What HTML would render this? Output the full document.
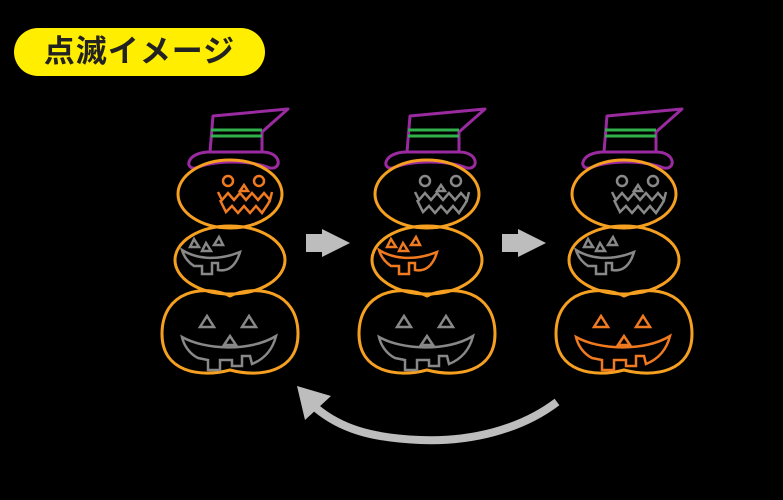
<!DOCTYPE html>
<html><head><meta charset="utf-8"><style>
body{margin:0;background:#000;width:783px;height:500px;overflow:hidden;position:relative}
.pill{position:absolute;left:14px;top:28px;width:251px;height:48px;border-radius:24px;background:#ffee00;font-family:"Liberation Sans","Noto Sans CJK JP",sans-serif;font-weight:bold;font-size:31px;line-height:48px;text-align:center;color:#222;letter-spacing:1px}
svg{position:absolute;left:0;top:0}
</style></head><body>
<div class="pill">点滅イメージ</div>
<svg width="783" height="500" viewBox="0 0 783 500">
<defs>
<g id="body" fill="none" stroke-width="3" stroke-linejoin="round">
<path d="M213,116 L288,109 L262,132 L262,152 L210,152 Z" stroke="#9a2aa0"/>
<path d="M210,152 C186,152 184,170 196,168 C215,160 250,160 270,168 C282,170 282,152 262,152" stroke="#9a2aa0"/>
<line x1="211" y1="130" x2="262" y2="130" stroke="#2fb04a"/>
<line x1="211" y1="136" x2="262" y2="136" stroke="#2fb04a"/>
<ellipse cx="230" cy="194" rx="52" ry="34" stroke="#f5a020"/>
<ellipse cx="230" cy="260" rx="55" ry="34" stroke="#f5a020"/>
<path d="M230,296 C205,284 162,290 162,334 C162,372 200,378 230,370 C260,378 298,372 298,334 C298,290 255,284 230,296 Z" stroke="#f5a020"/>
</g>
<g id="top" fill="none" stroke-width="2.5">
<circle cx="228" cy="181" r="5"/><circle cx="259" cy="181" r="5"/>
<path d="M240,191 L244,185 L248,191 Z"/>
<path d="M218,192 L222,200 L228,193 L234,200 L240,193 L246,200 L252,193 L258,200 L264,193 L270,200 L272,192 M220,200 L226,212 L232,206 L238,213 L244,206 L250,213 L256,206 L262,213 L268,204 L270,200"/>
</g>
<g id="mid" fill="none" stroke-width="2.5">
<path d="M190,247 L194,239 L199,247 Z M202,251 L206,243 L211,251 Z M214,245 L219,237 L223,245 Z"/>
<path d="M182,250 C195,258 215,262 240,252 C236,266 228,272 218,270 L218,263 L212,263 L212,274 L202,274 L202,266 L194,266 C188,262 184,257 182,250 Z"/>
</g>
<g id="bot" fill="none" stroke-width="2.5">
<path d="M200,327 L207,316 L214,327 Z M242,327 L249,316 L256,327 Z M224,345 L230,336 L236,345 Z"/>
<path d="M182,337 C205,350 250,352 276,336 C272,352 262,360 252,364 L250,356 L242,356 L242,366 L232,366 L232,360 L220,360 L220,370 L208,370 L208,360 L198,358 C190,354 184,346 182,337 Z"/>
</g>
<g id="ra" fill="#bdbdbd"><rect x="306" y="234" width="17" height="18"/><path d="M322,229 L350,243 L322,257 Z"/></g>
</defs>
<use href="#body"/><use href="#body" x="197"/><use href="#body" x="394"/>
<use href="#top" stroke="#f07a20"/><use href="#mid" stroke="#888"/><use href="#bot" stroke="#888"/>
<use href="#top" stroke="#888" x="197"/><use href="#mid" stroke="#f07a20" x="197"/><use href="#bot" stroke="#888" x="197"/>
<use href="#top" stroke="#888" x="394"/><use href="#mid" stroke="#888" x="394"/><use href="#bot" stroke="#f07a20" x="394"/>
<use href="#ra"/><use href="#ra" x="196"/>
<path d="M557,402 C520,430 470,442 420,440 C370,438 340,428 316,408" fill="none" stroke="#bdbdbd" stroke-width="8"/>
<path d="M297,386 L331,396 L305,420 Z" fill="#bdbdbd"/>
</svg>
</body></html>
